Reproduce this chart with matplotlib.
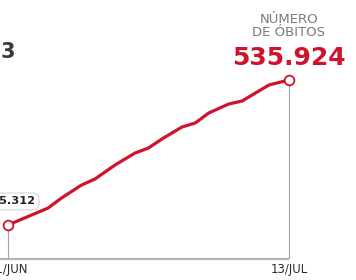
import matplotlib
matplotlib.use("Agg")
import matplotlib.pyplot as plt

# mortes acumuladas por covid-19 (dia 0 = 01/jun, dia 42 = 13/jul)
dias = [0, 6, 8, 11, 13, 16, 19, 21, 23, 26, 28, 30, 33, 35, 37, 39, 42]
obitos = [465312, 473590, 478460, 484790, 487710, 494530, 500370, 502810,
          507190, 513030, 514980, 519850, 524240, 525700, 529590, 533490,
          535924]
rotulo_inicio = "01/JUN"
rotulo_fim = "13/JUL"

vermelho = "#d0132d"
cinza = "#a8a8a8"

fig = plt.figure(figsize=(3.56, 2.80), dpi=100)
ax = fig.add_axes([0, 0.075, 1, 0.925])

x0, x1 = -1.196, 52.02
y0, y1 = 448755, 574883
ax.set_xlim(x0, x1)
ax.set_ylim(y0, y1)
ax.axis("off")

# linha de base e guias verticais
ax.hlines(y0, x0, dias[-1], color="#b5b5b5", lw=1.6, clip_on=False, zorder=1)
ax.vlines([dias[0], dias[-1]], y0, [obitos[0], obitos[-1]],
          color=cinza, lw=0.8, zorder=1)

ax.plot(dias, obitos, color=vermelho, lw=2.3, solid_capstyle="round", zorder=3)
ax.plot([dias[0], dias[-1]], [obitos[0], obitos[-1]], "o", ms=7,
        mfc="white", mec=vermelho, mew=1.3, zorder=4)

def fmt(v):
    return f"{v:,}".replace(",", ".")

# valor inicial
ax.annotate(fmt(obitos[0]), (dias[0], obitos[0]), xytext=(20, 17),
            textcoords="offset points", ha="right", va="center",
            fontsize=8.2, fontweight="bold", color="#222222",
            bbox=dict(boxstyle="round,pad=0.3,rounding_size=0.6",
                      fc="white", ec="#d5d5d5", lw=0.8), zorder=5)

# valor final
ax.annotate(fmt(obitos[-1]), (dias[-1], obitos[-1]), xytext=(0, 16),
            textcoords="offset points", ha="center", va="center",
            fontsize=18, fontweight="bold", color=vermelho)
ax.annotate("NÚMERO\nDE ÓBITOS", (dias[-1], obitos[-1]), xytext=(0, 39),
            textcoords="offset points", ha="center", va="center",
            fontsize=9.5, color="#7a7a7a", linespacing=0.95)

# datas
for d, txt in [(dias[0], rotulo_inicio), (dias[-1], rotulo_fim)]:
    ax.annotate(txt, (d, y0), xytext=(0, -7.5), textcoords="offset points",
                ha="center", va="center", fontsize=8.5, color="#2a2a2a",
                annotation_clip=False)

# resto do título cortado
fig.text(0.002, 1 - 52 / 280, "3", ha="left", va="center",
         fontsize=15, fontweight="bold", color="#3a3a3a")

fig.savefig("out.png", dpi=100)
